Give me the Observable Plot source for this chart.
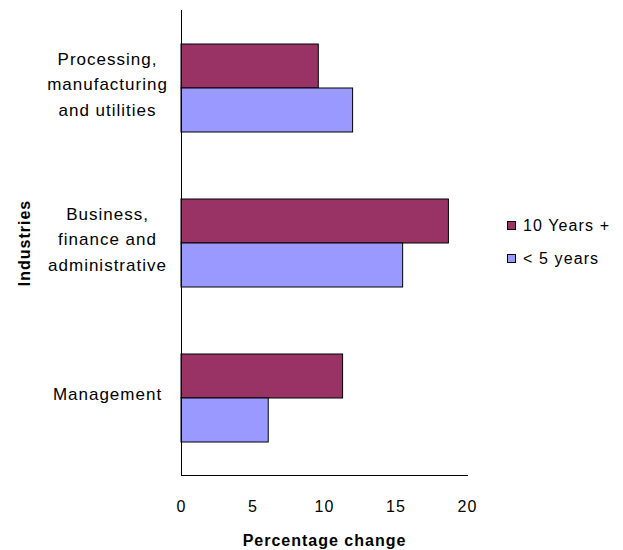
<!DOCTYPE html>
<html>
<head>
<meta charset="utf-8">
<script src="https://cdn.jsdelivr.net/npm/d3@7"></script>
<script src="https://cdn.jsdelivr.net/npm/@observablehq/plot@0.6"></script>
<style>
  body { margin: 0; background: #fff; }
  #wrap { position: relative; width: 623px; height: 550px; font-family: "Liberation Sans", Arial, sans-serif; }
  #wrap svg text { letter-spacing: 1px; }
  g[aria-label="x-axis label"] text, g[aria-label="fy-axis label"] text { font-weight: bold; letter-spacing: 0.9px; font-size: 16px !important; }
  #legend { position: absolute; left: 507px; top: 209px; font-size: 16px; letter-spacing: 1.1px; color: #000; }
  #legend .item { display: flex; align-items: center; height: 33px; }
  #legend .sw { width: 7px; height: 7px; border: 1px solid #000; margin-right: 7px; }
</style>
</head>
<body>
<div id="wrap"><div id="legend"></div></div>
<script>
const industries = ["Processing, manufacturing and utilities", "Business, finance and administrative", "Management"];
const industryLabels = ["Processing,\nmanufacturing\nand utilities", "Business,\nfinance and\nadministrative", "Management"];
const series = ["10 Years +", "< 5 years"];
const tenYearsPlus = [9.6, 18.7, 11.3];
const underFiveYears = [12.0, 15.5, 6.1];
const seriesColors = ["#993366", "#9999FF"];
const xTicks = [0, 5, 10, 15, 20];

const data = [];
industries.forEach((ind, i) => {
  data.push({industry: ind, series: series[0], value: tenYearsPlus[i]});
  data.push({industry: ind, series: series[1], value: underFiveYears[i]});
});

const chart = Plot.plot({
  width: 623,
  height: 550,
  marginLeft: 181,
  marginRight: 156,
  marginTop: 10,
  marginBottom: 75,
  style: { fontFamily: '"Liberation Sans", Arial, sans-serif', fontSize: "15px", color: "#000", background: "#fff" },
  x: { domain: [0, 20] },
  y: { domain: series, paddingInner: 0, paddingOuter: 0.74, axis: null },
  fy: { domain: industries, padding: 0 },
  color: { domain: series, range: seriesColors },
  marks: [
    Plot.barX(data, { x: "value", y: "series", fy: "industry", fill: "series", stroke: "#000", strokeWidth: 1 }),
    Plot.ruleX([0], { stroke: "#000", strokeWidth: 1 }),
    Plot.frame({ anchor: "bottom", facetAnchor: "bottom", stroke: "#000" }),
    Plot.axisX({ ticks: xTicks, tickSize: 0, tickPadding: 25, fontSize: 16,
      label: "Percentage change", labelArrow: "none", labelAnchor: "center", labelOffset: 70 }),
    Plot.axisFy({ anchor: "left", tickSize: 0, tickPadding: 74, textAnchor: "middle", lineHeight: 1.5, fontSize: 17, dy: -6,
      tickFormat: d => industryLabels[industries.indexOf(d)],
      label: "Industries", labelAnchor: "center", labelOffset: 163 })
  ]
});
const wrap = document.getElementById("wrap");
wrap.insertBefore(chart, wrap.firstChild);

const legend = document.getElementById("legend");
series.forEach((s, i) => {
  const item = document.createElement("div");
  item.className = "item";
  const sw = document.createElement("div");
  sw.className = "sw";
  sw.style.background = seriesColors[i];
  const t = document.createElement("span");
  t.textContent = s;
  item.appendChild(sw);
  item.appendChild(t);
  legend.appendChild(item);
});
</script>
</body>
</html>
